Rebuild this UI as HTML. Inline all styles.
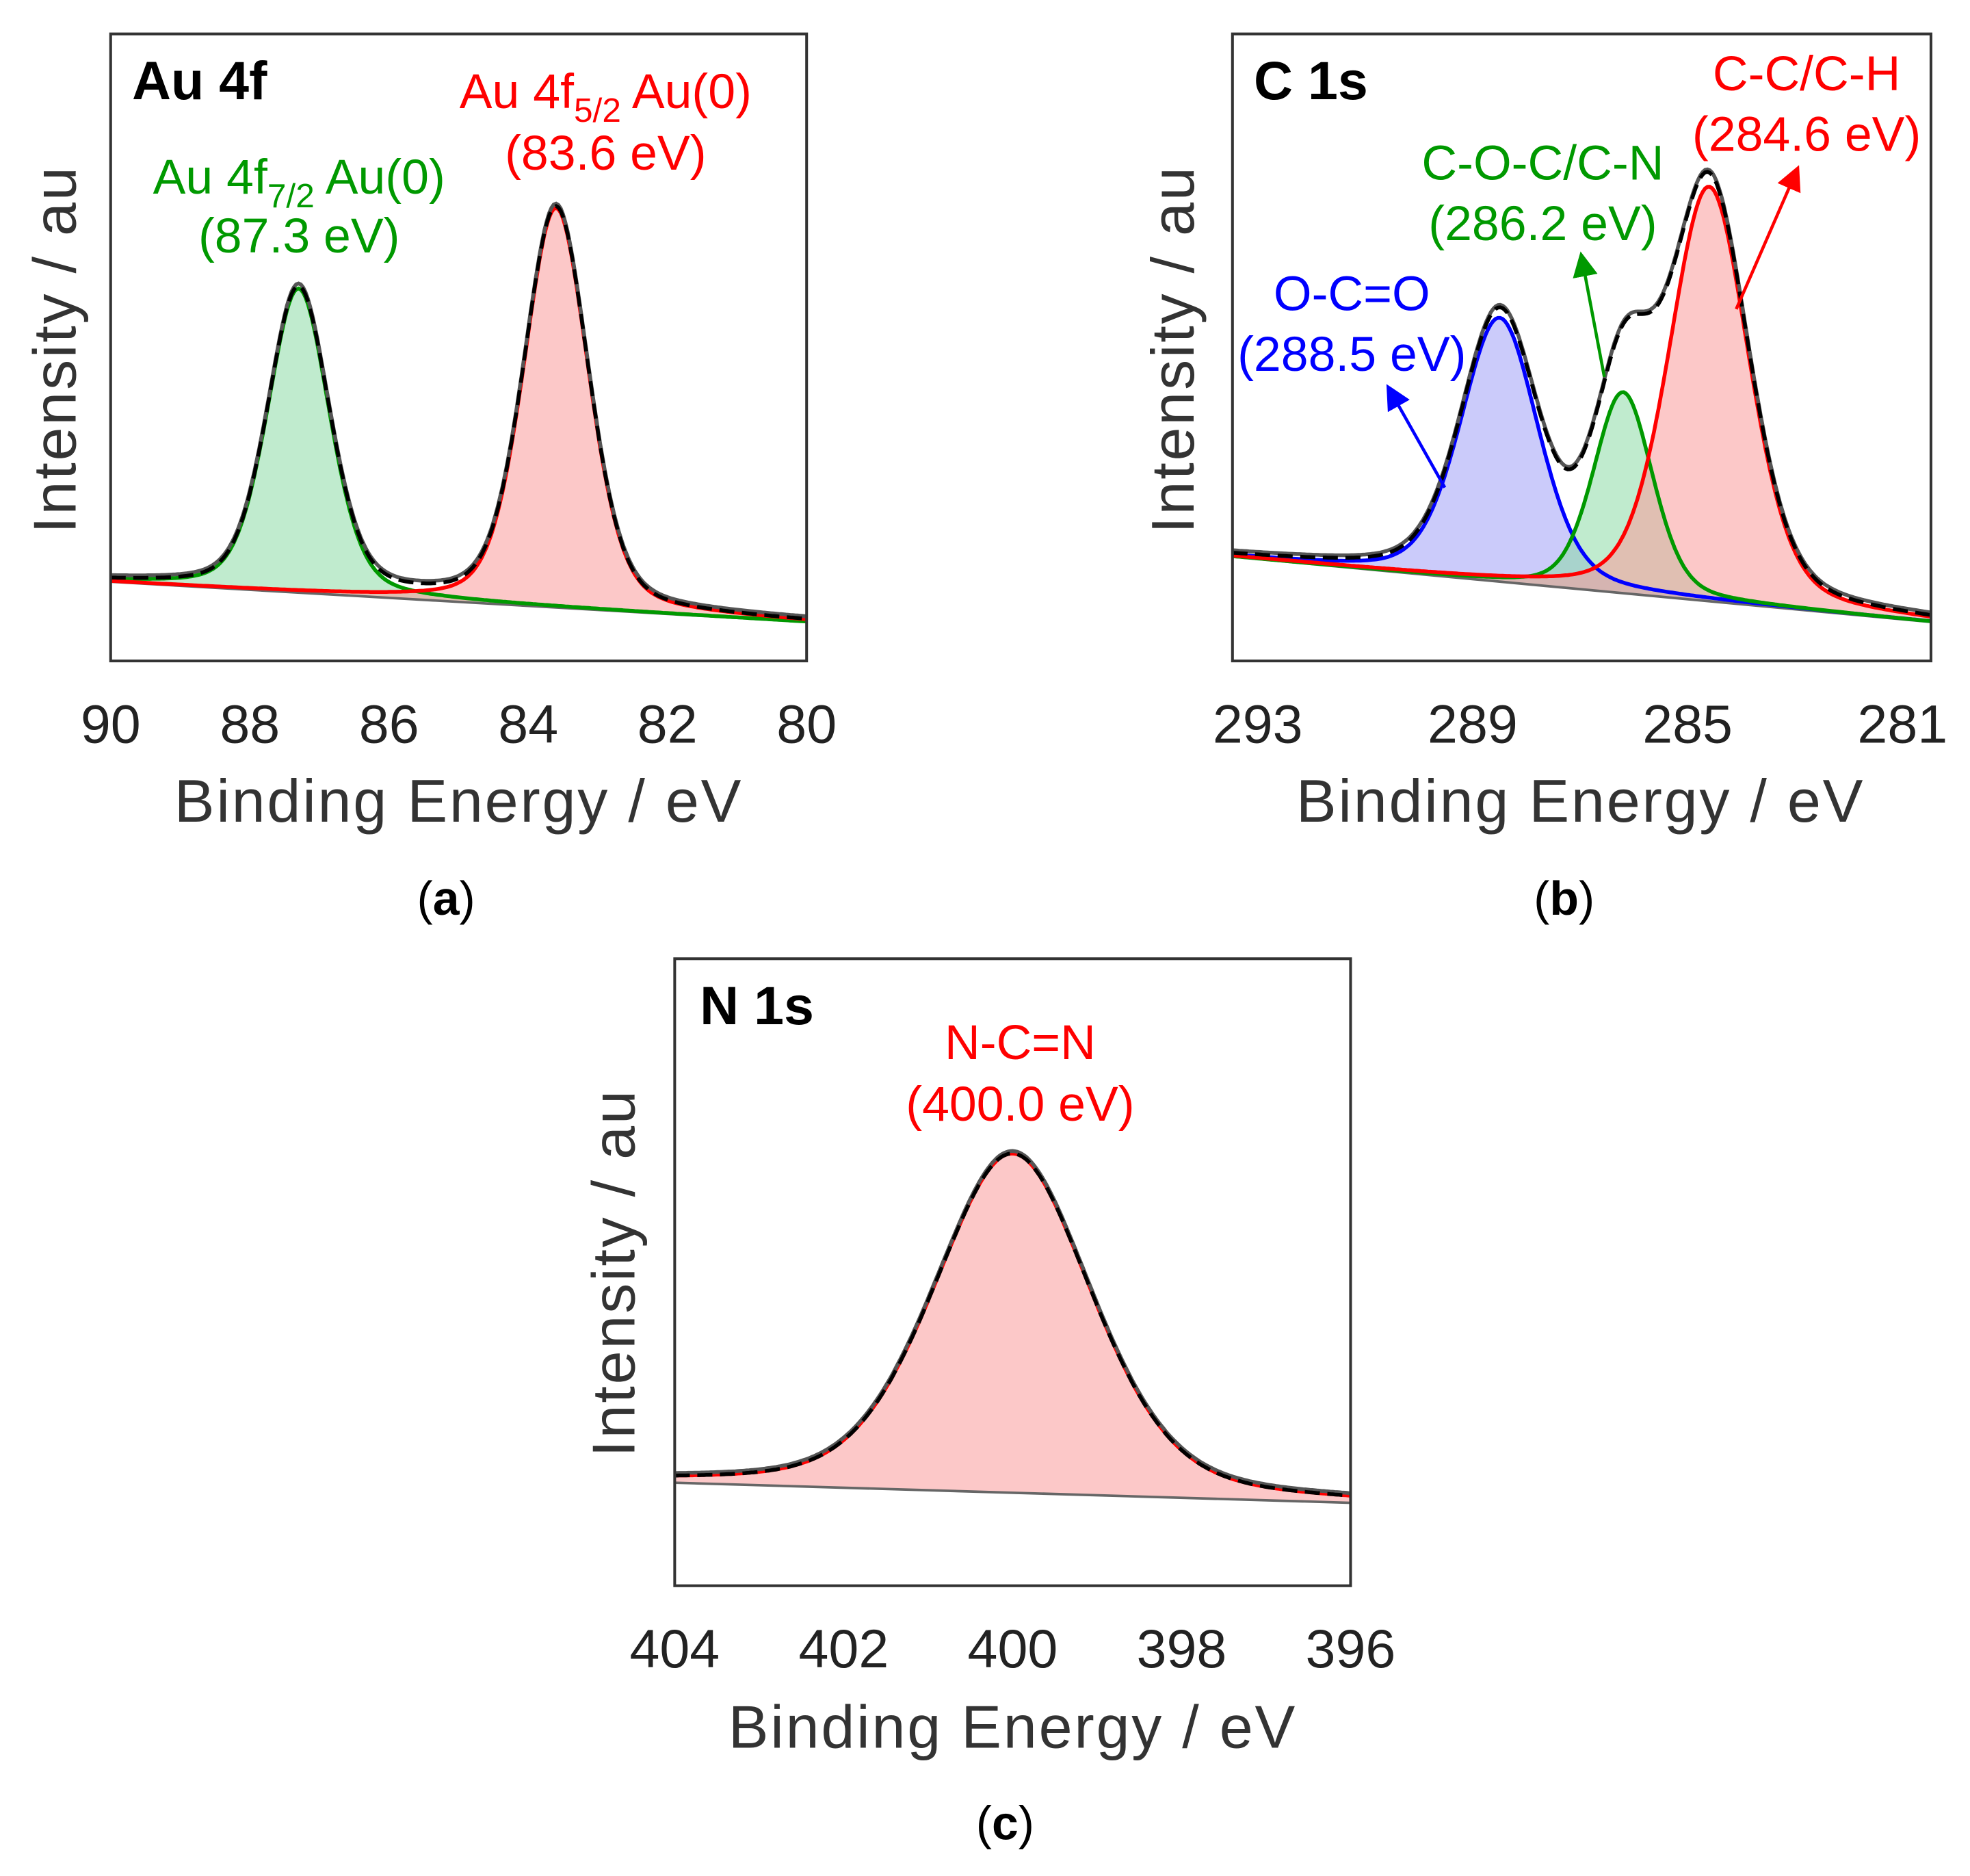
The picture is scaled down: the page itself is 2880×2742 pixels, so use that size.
<!DOCTYPE html>
<html><head><meta charset="utf-8"><style>
html,body{margin:0;padding:0;background:#fff}
svg{display:block}
text{font-family:"Liberation Sans",sans-serif}
</style></head><body>
<svg id="fig" width="2880" height="2742" viewBox="0 0 1568 1493" xmlns="http://www.w3.org/2000/svg">
<defs>
<marker id="ab" markerWidth="8" markerHeight="8" refX="6" refY="4" orient="auto"><path d="M0,0 L8,4 L0,8 z" fill="#0000ff"/></marker>
<marker id="ag" markerWidth="8" markerHeight="8" refX="6" refY="4" orient="auto"><path d="M0,0 L8,4 L0,8 z" fill="#009900"/></marker>
<marker id="ar" markerWidth="8" markerHeight="8" refX="6" refY="4" orient="auto"><path d="M0,0 L8,4 L0,8 z" fill="#ff0000"/></marker>
</defs>
<g id="plots"></g>
<!-- Panel a text -->
<text x="105" y="79" font-size="43" font-weight="bold">Au 4f</text>
<text x="238" y="154" font-size="39" fill="#009900" text-anchor="middle">Au 4f<tspan font-size="27" dy="11">7/2</tspan><tspan dy="-11"> Au(0)</tspan></text>
<text x="238" y="201" font-size="39" fill="#009900" text-anchor="middle">(87.3 eV)</text>
<text x="482" y="86" font-size="39" fill="#ff0000" text-anchor="middle">Au 4f<tspan font-size="27" dy="11">5/2</tspan><tspan dy="-11"> Au(0)</tspan></text>
<text x="482" y="135" font-size="39" fill="#ff0000" text-anchor="middle">(83.6 eV)</text>
<text transform="translate(60,278) rotate(-90)" font-size="48" letter-spacing="1.5" fill="#333" text-anchor="middle">Intensity / au</text>
<text x="365" y="654" font-size="48" letter-spacing="1.5" fill="#333" text-anchor="middle">Binding Energy / eV</text>
<text x="355" y="728" font-size="38" font-family="Liberation Serif" text-anchor="middle">(<tspan font-weight="bold">a</tspan>)</text>
<!-- Panel b text -->
<text x="998" y="79" font-size="43" font-weight="bold">C 1s</text>
<text x="1076" y="247" font-size="39" fill="#0000ff" text-anchor="middle">O-C=O</text>
<text x="1076" y="295" font-size="39" fill="#0000ff" text-anchor="middle">(288.5 eV)</text>
<text x="1228" y="143" font-size="39" fill="#009900" text-anchor="middle">C-O-C/C-N</text>
<text x="1228" y="191" font-size="39" fill="#009900" text-anchor="middle">(286.2 eV)</text>
<text x="1438" y="72" font-size="39" fill="#ff0000" text-anchor="middle">C-C/C-H</text>
<text x="1438" y="120" font-size="39" fill="#ff0000" text-anchor="middle">(284.6 eV)</text>
<line x1="1150" y1="388" x2="1106" y2="310" stroke="#0000ff" stroke-width="2.5" marker-end="url(#ab)"/>
<line x1="1277" y1="300" x2="1259" y2="205" stroke="#009900" stroke-width="2.5" marker-end="url(#ag)"/>
<line x1="1382" y1="246" x2="1430" y2="136" stroke="#ff0000" stroke-width="2.5" marker-end="url(#ar)"/>
<text transform="translate(950,278) rotate(-90)" font-size="48" letter-spacing="1.5" fill="#333" text-anchor="middle">Intensity / au</text>
<text x="1258" y="654" font-size="48" letter-spacing="1.5" fill="#333" text-anchor="middle">Binding Energy / eV</text>
<text x="1245" y="728" font-size="38" font-family="Liberation Serif" text-anchor="middle">(<tspan font-weight="bold">b</tspan>)</text>
<!-- Panel c text -->
<text x="557" y="815" font-size="43" font-weight="bold">N 1s</text>
<text x="812" y="843" font-size="39" fill="#ff0000" text-anchor="middle">N-C=N</text>
<text x="812" y="892" font-size="39" fill="#ff0000" text-anchor="middle">(400.0 eV)</text>
<text transform="translate(505,1013) rotate(-90)" font-size="48" letter-spacing="1.5" fill="#333" text-anchor="middle">Intensity / au</text>
<text x="806" y="1391" font-size="48" letter-spacing="1.5" fill="#333" text-anchor="middle">Binding Energy / eV</text>
<text x="800" y="1464" font-size="38" font-family="Liberation Serif" text-anchor="middle">(<tspan font-weight="bold">c</tspan>)</text>
</svg>
<script>
// Panel a data
const aTicks = [90, 88, 86, 84, 82, 80];
const aPeakCenters = [87.3, 83.6];
const aPeakHeights = [242, 318];
const aPeakFwhm = [1.05, 1.1];
const aBaselineEnds = [463, 495];
// Panel b data
const bTicks = [293, 289, 285, 281];
const bPeakCenters = [288.5, 286.2, 284.6];
const bPeakHeights = [210, 160, 330];
const bPeakFwhm = [1.7, 1.3, 1.75];
const bBaselineEnds = [443, 495];
// Panel c data
const cTicks = [404, 402, 400, 398, 396];
const cPeakCenters = [400.0];
const cPeakHeights = [270];
const cPeakFwhm = [2.2];
const cBaselineEnds = [1180, 1196];

const NS = "http://www.w3.org/2000/svg";
const root = document.getElementById('plots');
function mk(tag, attrs, parent){const e=document.createElementNS(NS,tag);for(const k in attrs)e.setAttribute(k,attrs[k]);(parent||root).appendChild(e);return e;}
function pv(x,c,f){const g=Math.exp(-4*Math.LN2*(x-c)*(x-c)/(f*f));const l=1/(1+4*(x-c)*(x-c)/(f*f));return 0.7*g+0.3*l;}

function panel(cfg){
  const {x0,x1,y0,y1,eL,eR,ticks,centers,heights,fwhm,base,colors,fills,name}=cfg;
  const g=mk('g',{});
  
  
  const sx=e=>x0+(eL-e)/(eL-eR)*(x1-x0);
  const bl=e=>base[0]+(base[1]-base[0])*(eL-e)/(eL-eR);
  const N=300, es=[];
  for(let i=0;i<=N;i++) es.push(eL-(eL-eR)*i/N);
  centers.forEach((c,k)=>{
    let d='';
    es.forEach((e,i)=>{d+=(i?'L':'M')+sx(e).toFixed(1)+','+(bl(e)-heights[k]*pv(e,c,fwhm[k])).toFixed(1);});
    for(let i=N;i>=0;i--) d+='L'+sx(es[i]).toFixed(1)+','+bl(es[i]).toFixed(1);
    const p=mk('path',{d:d+'Z',fill:fills[k],'fill-opacity':0.55,stroke:'none'},g);
    
    
  });
  const b=mk('line',{x1:sx(eL),y1:bl(eL),x2:sx(eR),y2:bl(eR),stroke:'#666','stroke-width':2},g);
  
  
  centers.forEach((c,k)=>{
    let d='';
    es.forEach((e,i)=>{d+=(i?'L':'M')+sx(e).toFixed(1)+','+(bl(e)-heights[k]*pv(e,c,fwhm[k])).toFixed(1);});
    const p=mk('path',{d,fill:'none',stroke:colors[k],'stroke-width':3},g);
    
    
  });
  let d='';
  es.forEach((e,i)=>{let s=0;centers.forEach((c,k)=>s+=heights[k]*pv(e,c,fwhm[k]));d+=(i?'L':'M')+sx(e).toFixed(1)+','+(bl(e)-s).toFixed(1);});
  const raw=mk('path',{d,fill:'none',stroke:'#555','stroke-width':3,transform:'translate(0,-2)'},g);
  
  
  const env=mk('path',{d,fill:'none',stroke:'#000','stroke-width':3,'stroke-dasharray':'12,6'},g);
  
  
  const fr=mk('rect',{x:x0,y:y0,width:x1-x0,height:y1-y0,fill:'none',stroke:'#333','stroke-width':2.2},g);
  
  
  ticks.forEach(t=>{
    const tx=mk('text',{x:sx(t),y:y1+65,'font-size':43,fill:'#222','text-anchor':'middle'},g);
    tx.textContent=t;
    
    
  });
}
panel({x0:88,x1:642,y0:27,y1:526,eL:90,eR:80,ticks:aTicks,centers:aPeakCenters,heights:aPeakHeights,fwhm:aPeakFwhm,base:aBaselineEnds,colors:['#009900','#ff0000'],fills:['#8ddba6','#fa9a9a'],name:'panel-a-au4f'});
panel({x0:981,x1:1537,y0:27,y1:526,eL:293.47,eR:280.47,ticks:bTicks,centers:bPeakCenters,heights:bPeakHeights,fwhm:bPeakFwhm,base:bBaselineEnds,colors:['#0000ff','#009900','#ff0000'],fills:['#a0a0f5','#8ddba6','#fa9a9a'],name:'panel-b-c1s'});
panel({x0:537,x1:1075,y0:763,y1:1262,eL:404,eR:396,ticks:cTicks,centers:cPeakCenters,heights:cPeakHeights,fwhm:cPeakFwhm,base:cBaselineEnds,colors:['#ff0000'],fills:['#fa9a9a'],name:'panel-c-n1s'});
</script>
</body></html>
